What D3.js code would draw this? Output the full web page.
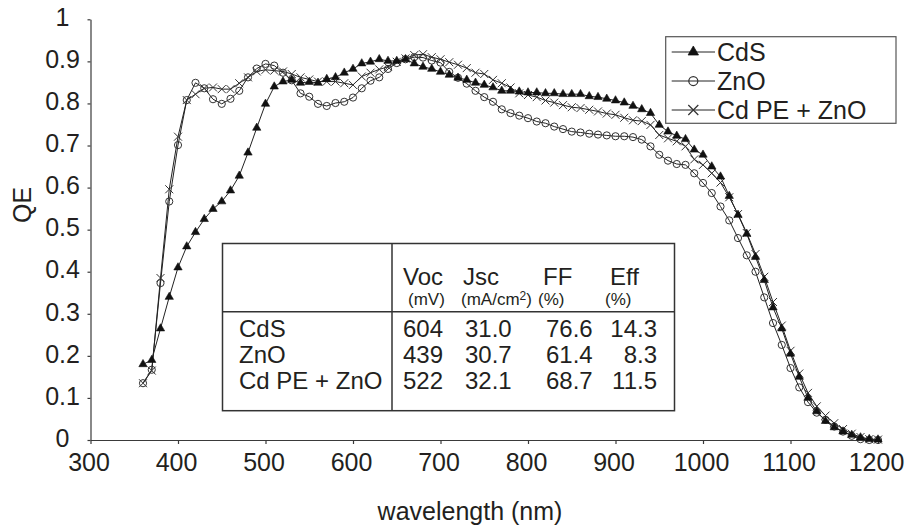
<!DOCTYPE html>
<html>
<head>
<meta charset="utf-8">
<script src="https://cdn.jsdelivr.net/npm/d3@7"></script>
<style>
  body { margin: 0; background: #fff; }
  svg text { font-family: 'Liberation Sans', Arial, sans-serif; fill: #231f20; }
</style>
</head>
<body>
<div id="wrapper"></div>
<script>
// Data
const wavelengths = [360, 370, 380, 390, 400, 410, 420, 430, 440, 450, 460, 470, 480, 490, 500, 510, 520, 530, 540, 550,
  560, 570, 580, 590, 600, 610, 620, 630, 640, 650, 660, 670, 680, 690, 700, 710, 720, 730, 740, 750,
  760, 770, 780, 790, 800, 810, 820, 830, 840, 850, 860, 870, 880, 890, 900, 910, 920, 930, 940, 950,
  960, 970, 980, 990, 1000, 1010, 1020, 1030, 1040, 1050, 1060, 1070, 1080, 1090, 1100, 1110, 1120, 1130, 1140, 1150,
  1160, 1170, 1180, 1190, 1200];

const cdsQE = [0.18, 0.19, 0.265, 0.34, 0.41, 0.46, 0.494, 0.525, 0.549, 0.567, 0.593, 0.628, 0.683, 0.742, 0.799, 0.84, 0.852, 0.856, 0.849, 0.851,
  0.849, 0.858, 0.862, 0.873, 0.882, 0.895, 0.899, 0.905, 0.901, 0.901, 0.905, 0.895, 0.887, 0.882, 0.875, 0.868, 0.861, 0.856, 0.849, 0.844,
  0.838, 0.83, 0.83, 0.828, 0.826, 0.826, 0.824, 0.824, 0.822, 0.822, 0.822, 0.817, 0.815, 0.811, 0.807, 0.802, 0.794, 0.786, 0.777, 0.749,
  0.733, 0.723, 0.715, 0.69, 0.678, 0.65, 0.626, 0.58, 0.535, 0.49, 0.435, 0.38, 0.315, 0.265, 0.205, 0.15, 0.10, 0.068, 0.045, 0.03,
  0.02, 0.012, 0.006, 0.002, 0.001];

const znoQE = [0.135, 0.167, 0.373, 0.567, 0.701, 0.808, 0.849, 0.836, 0.81, 0.799, 0.811, 0.83, 0.862, 0.883, 0.894, 0.89, 0.873, 0.855, 0.824, 0.816,
  0.799, 0.794, 0.801, 0.804, 0.814, 0.836, 0.854, 0.862, 0.882, 0.896, 0.905, 0.91, 0.909, 0.902, 0.897, 0.875, 0.861, 0.847, 0.83, 0.815,
  0.804, 0.786, 0.777, 0.771, 0.765, 0.757, 0.753, 0.745, 0.739, 0.733, 0.731, 0.728, 0.726, 0.724, 0.722, 0.722, 0.72, 0.714, 0.698, 0.678,
  0.664, 0.656, 0.654, 0.634, 0.611, 0.587, 0.555, 0.522, 0.48, 0.439, 0.40, 0.339, 0.278, 0.226, 0.171, 0.125, 0.09, 0.065, 0.048, 0.032,
  0.02, 0.01, 0.002, 0, 0];

const cdPeZnoQE = [0.135, 0.165, 0.385, 0.596, 0.721, 0.808, 0.822, 0.836, 0.838, 0.834, 0.834, 0.848, 0.862, 0.876, 0.88, 0.878, 0.876, 0.87, 0.862, 0.857,
  0.852, 0.852, 0.852, 0.848, 0.844, 0.864, 0.873, 0.881, 0.887, 0.899, 0.907, 0.915, 0.917, 0.91, 0.905, 0.898, 0.892, 0.884, 0.873, 0.87,
  0.856, 0.848, 0.838, 0.824, 0.82, 0.815, 0.807, 0.802, 0.796, 0.791, 0.789, 0.785, 0.781, 0.776, 0.773, 0.766, 0.76, 0.758, 0.749, 0.725,
  0.717, 0.71, 0.698, 0.667, 0.654, 0.634, 0.612, 0.577, 0.537, 0.492, 0.442, 0.388, 0.328, 0.272, 0.212, 0.158, 0.112, 0.08, 0.058, 0.04,
  0.026, 0.015, 0.007, 0.002, 0.001];

const seriesNames = ['CdS', 'ZnO', 'Cd PE + ZnO'];
const xTicks = [300, 400, 500, 600, 700, 800, 900, 1000, 1100, 1200];
const yTicks = [0, 0.1, 0.2, 0.3, 0.4, 0.5, 0.6, 0.7, 0.8, 0.9, 1];

// inset table
const tableHeaders = ['Voc', 'Jsc', 'FF', 'Eff'];
const tableUnits = ['(mV)', '(mA/cm', '(%)', '(%)'];
const tableRows = ['CdS', 'ZnO', 'Cd PE + ZnO'];
const vocValues = ['604', '439', '522'];
const jscValues = ['31.0', '30.7', '32.1'];
const ffValues = ['76.6', '61.4', '68.7'];
const effValues = ['14.3', '8.3', '11.5'];

const dimensions = {
  width: 911,
  height: 529,
  margin: { top: 19.3, right: 33, bottom: 89, left: 90.5 },
};
dimensions.boundedWidth = dimensions.width - dimensions.margin.left - dimensions.margin.right;
dimensions.boundedHeight = dimensions.height - dimensions.margin.top - dimensions.margin.bottom;

const xScale = d3.scaleLinear().domain([300, 1200]).range([0, dimensions.boundedWidth]);
const yScale = d3.scaleLinear().domain([0, 1]).range([dimensions.boundedHeight, 0]);

const wrapper = d3.select('#wrapper').append('svg')
  .attr('width', dimensions.width)
  .attr('height', dimensions.height);

const bounds = wrapper.append('g')
  .attr('transform', `translate(${dimensions.margin.left}, ${dimensions.margin.top})`);

// Axes
const axisColor = '#3a3a3a';
const xAxis = d3.axisBottom(xScale).tickValues(xTicks).tickSizeInner(4).tickSizeOuter(0).tickPadding(9)
  .tickFormat(d3.format('d'));
const xAxisGroup = bounds.append('g')
  .attr('transform', `translate(0, ${dimensions.boundedHeight})`)
  .call(xAxis);
xAxisGroup.selectAll('text').style('font-size', '25px').attr('dx', '-2');

const yAxis = d3.axisLeft(yScale).tickValues(yTicks).tickSizeInner(3).tickSizeOuter(0)
  .tickFormat((d) => (d === 0 || d === 1 ? d3.format('d')(d) : d3.format('.1f')(d)));
const yAxisGroup = bounds.append('g').call(yAxis);
yAxisGroup.selectAll('text')
  .style('font-size', '25px')
  .attr('text-anchor', 'middle')
  .attr('x', -28)
  .attr('dy', '0.25em');

[xAxisGroup, yAxisGroup].forEach((g) => {
  g.select('.domain').attr('stroke', axisColor).attr('stroke-width', 1.2);
  g.selectAll('.tick line').attr('stroke', axisColor).attr('stroke-width', 1.2);
});

wrapper.append('text')
  .attr('x', 470)
  .attr('y', 520)
  .attr('text-anchor', 'middle')
  .style('font-size', '25px')
  .text('wavelength (nm)');

wrapper.append('text')
  .attr('transform', 'translate(31, 205) rotate(-90)')
  .attr('text-anchor', 'middle')
  .style('font-size', '25px')
  .text('QE');

// Inset table
const table = { x0: 222.5, x1: 674.5, y0: 243.5, y1: 410.7, colX: 392, rowY: 311.7 };
const tableG = wrapper.append('g');
tableG.append('rect')
  .attr('x', table.x0).attr('y', table.y0)
  .attr('width', table.x1 - table.x0).attr('height', table.y1 - table.y0)
  .attr('fill', '#fff').attr('stroke', '#333').attr('stroke-width', 1.5);
tableG.append('line')
  .attr('x1', table.colX).attr('x2', table.colX).attr('y1', table.y0).attr('y2', table.y1)
  .attr('stroke', '#333').attr('stroke-width', 1.5);
tableG.append('line')
  .attr('x1', table.x0).attr('x2', table.x1).attr('y1', table.rowY).attr('y2', table.rowY)
  .attr('stroke', '#333').attr('stroke-width', 1.5);

const headerX = [403, 463, 543, 610];
tableG.selectAll('.hdr').data(tableHeaders).join('text')
  .attr('class', 'hdr')
  .attr('x', (d, i) => headerX[i]).attr('y', 285)
  .style('font-size', '24px')
  .text((d) => d);

const unitX = [408, 461, 538, 605];
tableG.selectAll('.unit').data(tableUnits).join('text')
  .attr('class', 'unit')
  .attr('x', (d, i) => unitX[i]).attr('y', 305)
  .style('font-size', '17px')
  .each(function (d, i) {
    const t = d3.select(this);
    t.append('tspan').text(d);
    if (i === 1) {
      t.append('tspan').attr('dy', '-5').style('font-size', '12px').text('2');
      t.append('tspan').attr('dy', '5').text(')');
    }
  });

const rowY = [336.7, 363, 388.5];
tableG.selectAll('.rowlabel').data(tableRows).join('text')
  .attr('class', 'rowlabel')
  .attr('x', 239).attr('y', (d, i) => rowY[i])
  .style('font-size', '24px')
  .text((d) => d);

const columns = [
  { values: vocValues, x: 403, anchor: 'start' },
  { values: jscValues, x: 465, anchor: 'start' },
  { values: ffValues, x: 546, anchor: 'start' },
  { values: effValues, x: 657, anchor: 'end' },
];
columns.forEach((col) => {
  tableG.append('g').selectAll('text').data(col.values).join('text')
    .attr('x', col.x).attr('y', (d, i) => rowY[i])
    .attr('text-anchor', col.anchor)
    .style('font-size', '24px')
    .text((d) => d);
});

// Lines and markers
const allSeries = [cdsQE, znoQE, cdPeZnoQE];
const lineGenerator = d3.line()
  .x((d, i) => xScale(wavelengths[i]))
  .y((d) => yScale(d));

const triangle = d3.symbol(d3.symbolTriangle).size(30)();
const crossPath = 'M-4,-4L4,4M-4,4L4,-4';

const drawMarker = (g, k) => {
  if (k === 0) {
    g.append('path').attr('d', triangle).attr('fill', '#111').attr('stroke', '#111').attr('stroke-width', 0.6);
  } else if (k === 1) {
    g.append('circle').attr('r', 3.6).attr('fill', 'none').attr('stroke', '#333').attr('stroke-width', 1);
  } else {
    g.append('path').attr('d', crossPath).attr('fill', 'none').attr('stroke', '#333').attr('stroke-width', 1);
  }
};

allSeries.forEach((series, k) => {
  bounds.append('path')
    .attr('d', lineGenerator(series))
    .attr('fill', 'none')
    .attr('stroke', '#222')
    .attr('stroke-width', 1);
});

[1, 2, 0].forEach((k) => {
  const series = allSeries[k];
  bounds.append('g').selectAll('g').data(series).join('g')
    .attr('transform', (d, i) => `translate(${xScale(wavelengths[i])}, ${yScale(d)})`)
    .each(function () { drawMarker(d3.select(this), k); });
});

// Legend
const legend = wrapper.append('g');
legend.append('rect')
  .attr('x', 665.7).attr('y', 36.7)
  .attr('width', 230.3).attr('height', 86.6)
  .attr('fill', '#fff').attr('stroke', '#555').attr('stroke-width', 1.2);
const legendY = [52, 81, 110];
seriesNames.forEach((name, k) => {
  const row = legend.append('g').attr('transform', `translate(0, ${legendY[k]})`);
  row.append('line').attr('x1', 671.7).attr('x2', 715).attr('stroke', '#222').attr('stroke-width', 1);
  drawMarker(row.append('g').attr('transform', 'translate(693.3, 0) scale(1.25)'), k);
  row.append('text').attr('x', 717).attr('y', 9).style('font-size', '25px').text(name);
});
</script>
</body>
</html>
